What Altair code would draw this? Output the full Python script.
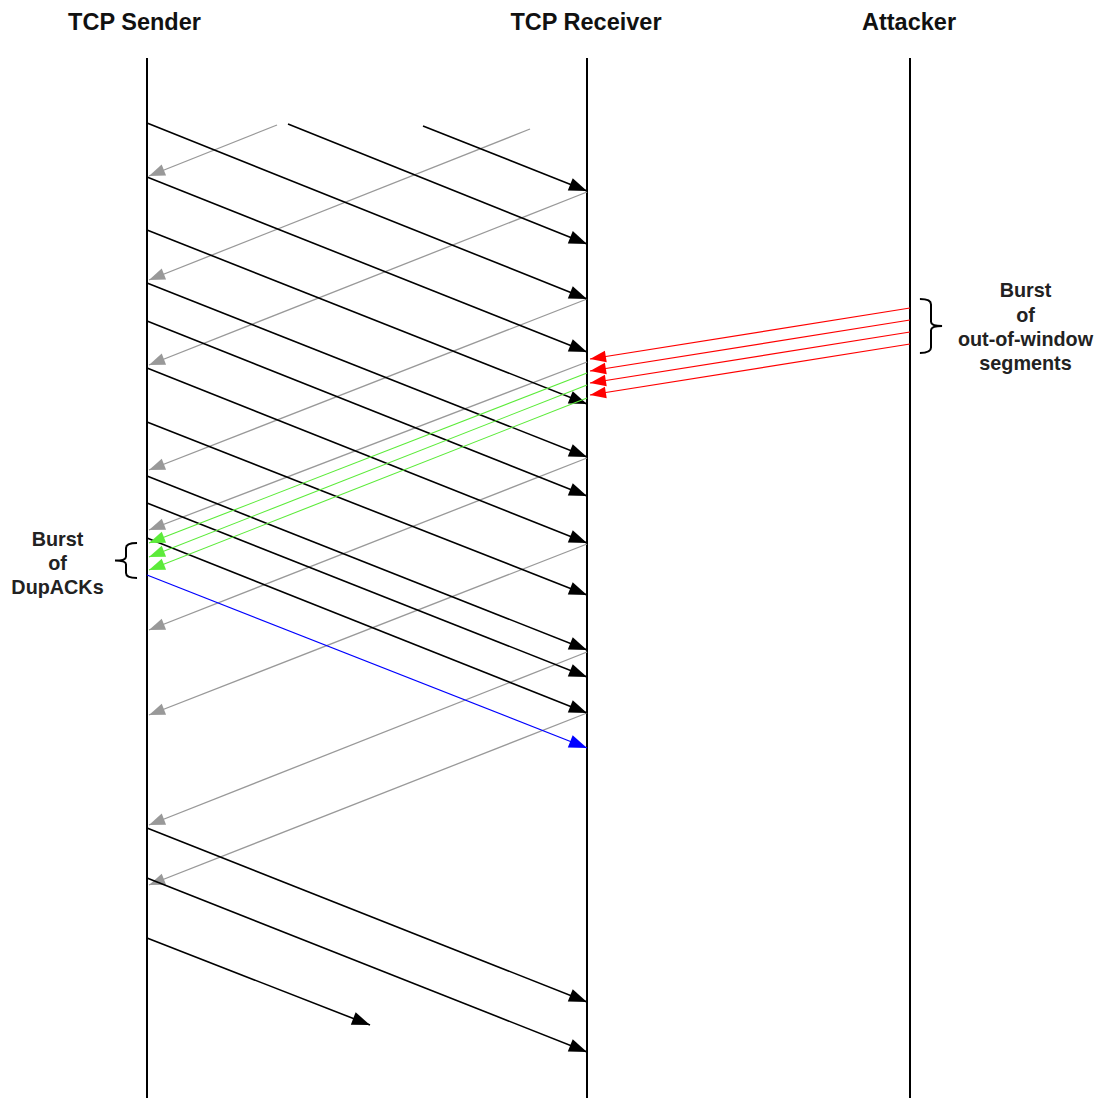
import math
import altair as alt
import pandas as pd

# lane positions (horizontal) and life-line extent (vertical, time runs downward)
lane_names = ["TCP Sender", "TCP Receiver", "Attacker"]
lane_x = [147, 587, 910]
lane_label_x = [134.5, 586, 909]
lifeline_top = 58
lifeline_bottom = 1098

# data segments, sender -> receiver (black)
data_x0 = [423, 288, 147, 147, 147, 147, 147, 147, 147, 147, 147, 147, 147, 147, 147]
data_t0 = [126, 124, 123, 177, 230, 283, 321, 368, 422, 476, 503, 538, 828, 878, 938]
data_x1 = [587, 587, 587, 587, 587, 587, 587, 587, 587, 587, 587, 587, 587, 587, 370]
data_t1 = [191, 244, 299, 352, 404, 457, 496, 543, 595, 650, 677, 713, 1002, 1052, 1025]

# ACKs, receiver -> sender (gray)
ack_x0 = [277, 530, 587, 587, 587, 587, 587, 587, 587]
ack_t0 = [125, 129, 192, 299, 362, 458, 544, 652, 713]
ack_x1 = [149, 149, 149, 149, 149, 149, 149, 149, 149]
ack_t1 = [176, 280, 365, 470, 530, 630, 715, 825, 885]

# DupACKs triggered by the attack (green)
dup_x0 = [587, 587, 587]
dup_t0 = [373, 385, 398]
dup_x1 = [149, 149, 149]
dup_t1 = [543, 557, 570]

# out-of-window segments from the attacker (red)
atk_x0 = [910, 910, 910, 910]
atk_t0 = [308, 320, 332, 344]
atk_x1 = [590, 590, 590, 590]
atk_t1 = [359, 371, 383, 395]

# fast retransmission (blue)
rtx_x0 = [147]
rtx_t0 = [575]
rtx_x1 = [587]
rtx_t1 = [748]

W, H = 1087, 1090
XS = alt.Scale(domain=[8, 8 + W], nice=False, zero=False)
YS = alt.Scale(domain=[8, 8 + H], nice=False, zero=False, reverse=True)

ARROW = "M0,0L-1,-0.37L-1,0.37Z"


def arrows(x0, t0, x1, t1, color, width, head):
    df = pd.DataFrame({"x0": x0, "t0": t0, "x1": x1, "t1": t1})
    df["angle"] = [
        math.degrees(math.atan2(b1 - b0, a1 - a0)) % 360
        for a0, b0, a1, b1 in zip(x0, t0, x1, t1)
    ]
    line = alt.Chart(df).mark_rule(color=color, strokeWidth=width).encode(
        x=alt.X("x0:Q", scale=XS, axis=None),
        y=alt.Y("t0:Q", scale=YS, axis=None),
        x2="x1:Q",
        y2="t1:Q",
    )
    tip = alt.Chart(df).mark_point(
        shape=ARROW, filled=True, size=(2 * head) ** 2, color=color, opacity=1, strokeWidth=0
    ).encode(
        x=alt.X("x1:Q", scale=XS, axis=None),
        y=alt.Y("t1:Q", scale=YS, axis=None),
        angle=alt.Angle("angle:Q", scale=None),
    )
    return [line, tip]


lanes_df = pd.DataFrame({"name": lane_names, "x": lane_x, "lx": lane_label_x,
                         "top": [lifeline_top] * 3, "bottom": [lifeline_bottom] * 3,
                         "ty": [29.5] * 3})

lifelines = alt.Chart(lanes_df).mark_rule(color="#000000", strokeWidth=2).encode(
    x=alt.X("x:Q", scale=XS, axis=None),
    y=alt.Y("top:Q", scale=YS, axis=None),
    y2="bottom:Q",
)

titles = alt.Chart(lanes_df).mark_text(
    font="Liberation Sans", fontSize=23.5, fontWeight="bold", color="#111111",
    baseline="alphabetic", align="center",
).encode(
    x=alt.X("lx:Q", scale=XS, axis=None),
    y=alt.Y("ty:Q", scale=YS, axis=None),
    text="name:N",
)

note_text = ["Burst", "of", "DupACKs", "Burst", "of", "out-of-window", "segments"]
note_x = [57.5, 57.5, 57.5, 1025.5, 1025.5, 1025.5, 1025.5]
note_y = [546, 570, 594, 297, 322, 346, 370]
notes = alt.Chart(pd.DataFrame({"t": note_text, "x": note_x, "y": note_y})).mark_text(
    font="Liberation Sans", fontSize=19.8, fontWeight="bold", color="#222222",
    baseline="alphabetic", align="center",
).encode(
    x=alt.X("x:Q", scale=XS, axis=None),
    y=alt.Y("y:Q", scale=YS, axis=None),
    text="t:N",
)

# curly braces grouping the bursts (unit-box path symbols)
LEFT_BRACE = "M0.63,-1Q0,-1,0,-0.72L0,-0.22Q0,0,-0.63,0Q0,0,0,0.22L0,0.72Q0,1,0.63,1"
RIGHT_BRACE = "M-0.41,-1Q0,-1,0,-0.8L0,-0.16Q0,0,0.41,0Q0,0,0,0.16L0,0.8Q0,1,-0.41,1"
brace_x = [126, 931]
brace_y = [560.5, 326]
brace_h = [35, 54]


def brace(i, path):
    df = pd.DataFrame({"x": [brace_x[i]], "y": [brace_y[i]]})
    return alt.Chart(df).mark_point(
        shape=path, filled=False, size=brace_h[i] ** 2, color="#000000",
        strokeWidth=2, opacity=1,
    ).encode(
        x=alt.X("x:Q", scale=XS, axis=None),
        y=alt.Y("y:Q", scale=YS, axis=None),
    )


layers = [lifelines]
layers += arrows(ack_x0, ack_t0, ack_x1, ack_t1, "#999999", 1.3, 16)
layers += arrows(data_x0, data_t0, data_x1, data_t1, "#000000", 1.6, 18)
layers += arrows(dup_x0, dup_t0, dup_x1, dup_t1, "#5CEB3A", 1.1, 16)
layers += arrows(atk_x0, atk_t0, atk_x1, atk_t1, "#FF0000", 1.2, 16)
layers += arrows(rtx_x0, rtx_t0, rtx_x1, rtx_t1, "#0000FF", 1.2, 18)
layers += [titles, notes, brace(0, LEFT_BRACE), brace(1, RIGHT_BRACE)]

chart = alt.layer(*layers).properties(
    width=W, height=H, padding=0, background="white",
    autosize=alt.AutoSizeParams(type="none"),
).configure_view(stroke=None)

chart.save("out.html", embed_options={"renderer": "svg", "actions": False})
